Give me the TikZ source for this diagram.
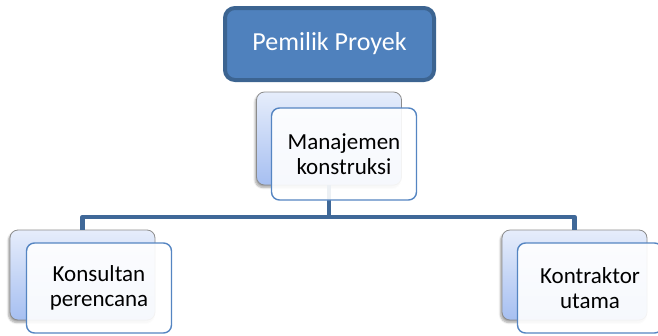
\documentclass[tikz,border=0pt]{standalone}
\usepackage{fontspec}
\setmainfont{Carlito}
\usetikzlibrary{shadows.blur}
\definecolor{headfill}{HTML}{4F81BD}
\definecolor{headline}{HTML}{3C6491}
\definecolor{busline}{HTML}{3F6898}
\definecolor{backtop}{HTML}{E6EDFB}
\definecolor{backbot}{HTML}{A6BFF1}
\definecolor{backline}{HTML}{8C8C8C}
\definecolor{frontline}{HTML}{5585C2}
\tikzset{
  headbox/.style={draw=headline, line width=4pt, fill=headfill, rounded corners=10pt,
    minimum width=209pt, minimum height=72pt, inner sep=0pt, text=white,
    font=\fontsize{26}{30}\selectfont},
  backbox/.style={draw=backline, line width=0.8pt, top color=backtop, bottom color=backbot,
    rounded corners=8pt, minimum width=145pt, minimum height=90pt, inner sep=0pt,
    blur shadow={shadow xshift=-1.5pt, shadow yshift=-2.5pt, shadow blur steps=6, shadow opacity=35}},
  frontbox/.style={draw=frontline, line width=1.4pt, fill=white, fill opacity=0.9, text opacity=1,
    rounded corners=8pt, minimum width=145pt, minimum height=90pt, inner sep=0pt,
    align=center, font=\fontsize{23}{25}\selectfont},
  bus/.style={draw=busline, line width=4.5pt, line join=round}
}
\begin{document}
\begin{tikzpicture}[x=1pt,y=-1pt]
\useasboundingbox (0,0) rectangle (658,335);
\clip (0,0) rectangle (658,335);
% head of the organisation
\node[headbox] (owner) at (329.5,44) {Pemilik Proyek};
% back cards
\node[backbox, minimum height=93pt] (mb) at (329,138.5) {};
\node[backbox] (lb) at (82.5,275) {};
\node[backbox] (rb) at (574.5,275) {};
% connector bus
\coordinate (bus) at (329,217);
\draw[bus] (mb.south) -- (bus);
\draw[bus] (lb.north) |- (bus) -| (rb.north);
% front cards with labels
\node[frontbox, minimum height=92pt] (mf) at (344,154) {Manajemen\\konstruksi};
\node[frontbox] (lf) at (99,288) {Konsultan\\perencana};
\node[frontbox] (rf) at (590,288) {Kontraktor\\utama};
\end{tikzpicture}
\end{document}
